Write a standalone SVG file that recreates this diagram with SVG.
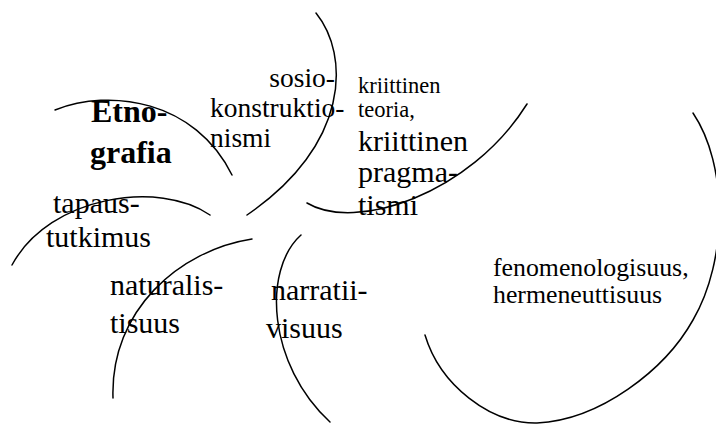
<svg xmlns="http://www.w3.org/2000/svg" width="716" height="425" viewBox="0 0 716 425">
  <style>
    .arc { fill: none; stroke: #000; stroke-width: 1.5; stroke-linecap: round; }
    .lbl { font-family: 'Liberation Serif', 'DejaVu Serif', serif; fill: #000; }
    .bold { font-weight: bold; font-size: 32px; }
    .big { font-size: 30px; }
    .mid { font-size: 27.5px; }
    .fen { font-size: 25.8px; }
    .small { font-size: 22.5px; }
  </style>
  <rect width="716" height="425" fill="#fff"/>

  <!-- curved dividers between the approaches -->
  <g id="connectors">
    <path class="arc" d="M55,110 C110,88 195,100 232,175"/>
    <path class="arc" d="M12,265 C50,195 160,180 210,215"/>
    <path class="arc" d="M316,13 C350,55 350,145 247,215"/>
    <path class="arc" d="M307,203 C355,232 470,195 527,104"/>
    <path class="arc" d="M252,239 C180,250 110,310 113,398"/>
    <path class="arc" d="M301,235 C262,270 268,365 330,422"/>
    <path class="arc" d="M693,113 C728,165 728,260 693,320 C665,370 600,420 537,423 C490,424 440,385 425,335"/>
  </g>

  <g id="etnografia">
    <text class="lbl bold" x="91" y="122">Etno-</text>
    <text class="lbl bold" x="90" y="163">grafia</text>
  </g>

  <g id="tapaustutkimus">
    <text class="lbl big" x="53" y="213">tapaus-</text>
    <text class="lbl big" x="46" y="247">tutkimus</text>
  </g>

  <g id="sosiokonstruktionismi">
    <text class="lbl mid" x="335" y="87" text-anchor="end">sosio-</text>
    <text class="lbl mid" x="210" y="117">konstruktio-</text>
    <text class="lbl mid" x="210" y="147">nismi</text>
  </g>

  <g id="kriittinen">
    <text class="lbl small" x="358" y="93">kriittinen</text>
    <text class="lbl small" x="358" y="117">teoria,</text>
    <text class="lbl big" x="358" y="151">kriittinen</text>
    <text class="lbl big" x="358" y="182">pragma-</text>
    <text class="lbl big" x="358" y="215">tismi</text>
  </g>

  <g id="naturalistisuus">
    <text class="lbl big" x="110" y="295">naturalis-</text>
    <text class="lbl big" x="110" y="333">tisuus</text>
  </g>

  <g id="narratiivisuus">
    <text class="lbl big" x="271" y="300">narratii-</text>
    <text class="lbl big" x="266" y="338">visuus</text>
  </g>

  <g id="fenomenologisuus">
    <text class="lbl fen" x="493" y="276">fenomenologisuus,</text>
    <text class="lbl fen" x="493" y="303">hermeneuttisuus</text>
  </g>
</svg>
